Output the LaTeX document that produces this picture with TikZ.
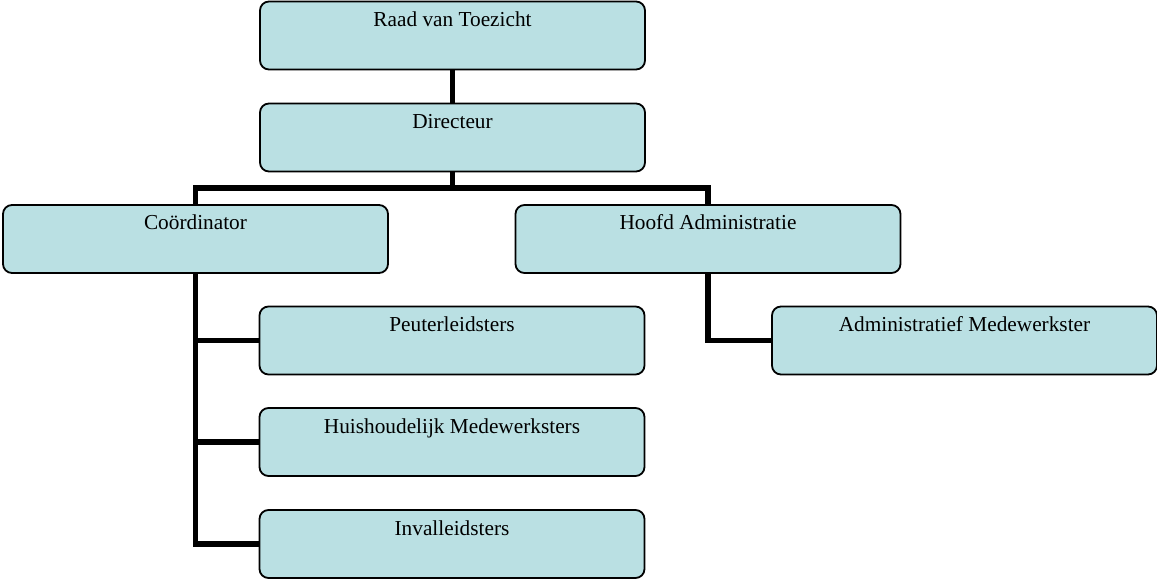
\documentclass[tikz,border=0pt]{standalone}
\usepackage{fontspec}
\setmainfont{Liberation Serif}
\definecolor{boxfill}{RGB}{186,224,227}
\tikzset{
  orgbox/.style={draw=black, line width=1.8pt, fill=boxfill, rounded corners=9pt,
    minimum width=385pt, inner sep=0pt, text height=25pt, text depth=43pt,
    font=\fontsize{21.3pt}{24pt}\selectfont, anchor=center},
  conn/.style={line width=5.5pt, draw=black, line join=miter}
}
\begin{document}
\begin{tikzpicture}[x=1pt,y=-1pt]
\useasboundingbox (0,0) rectangle (1157,580);
\node[orgbox] (raad) at (452.5,35.5) {Raad van Toezicht};
\node[orgbox] (dir) at (452.5,137.5) {Directeur};
\node[orgbox] (coord) at (195.5,239) {Coördinator};
\node[orgbox] (hoofd) at (708,239) {Hoofd Administratie};
\node[orgbox] (peuter) at (452,340.5) {Peuterleidsters};
\node[orgbox] (huis) at (452,442) {Huishoudelijk Medewerksters};
\node[orgbox] (inval) at (452,544) {Invalleidsters};
\node[orgbox] (admin) at (964.5,340.5) {Administratief Medewerkster};
\coordinate (split) at (452.5,188);
\draw[conn] (raad.south) -- (dir.north);
\draw[conn] (dir.south) -- (split);
\draw[conn] (split) -| (coord.north);
\draw[conn] (split) -| (hoofd.north);
\draw[conn] (coord.south) |- (peuter.west);
\draw[conn] (coord.south) |- (huis.west);
\draw[conn] (coord.south) |- (inval.west);
\draw[conn] (hoofd.south) |- (admin.west);
\end{tikzpicture}
\end{document}
